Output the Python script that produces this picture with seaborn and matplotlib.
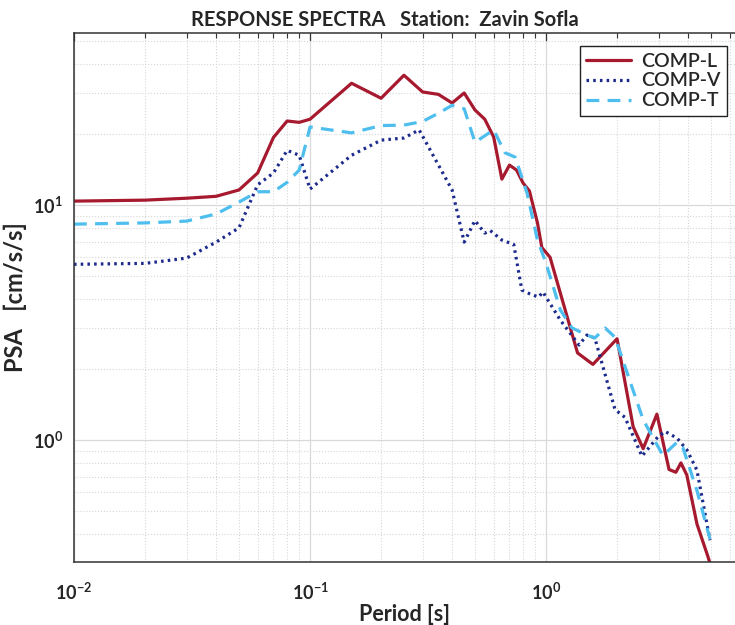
import numpy as np
import pandas as pd
import seaborn as sns
import matplotlib.pyplot as plt
from matplotlib.ticker import LogLocator, NullFormatter, FuncFormatter

# ---- data (period [s], PSA [cm/s/s]) ----
period_L = [0.01, 0.02, 0.03, 0.04, 0.05, 0.06, 0.07, 0.08, 0.09, 0.10,
            0.15, 0.20, 0.25, 0.30, 0.35, 0.40, 0.45, 0.50, 0.55, 0.60,
            0.65, 0.70, 0.75, 0.80, 0.85, 0.92, 0.96, 1.04, 1.36, 1.58,
            2.00, 2.34, 2.58, 2.95, 3.32, 3.55, 3.73, 3.95, 4.36, 4.85, 5.00]
psa_L = [10.4, 10.5, 10.7, 10.9, 11.6, 13.7, 19.4, 22.8, 22.5, 23.2,
         33.0, 28.5, 35.7, 30.3, 29.6, 27.2, 30.0, 25.4, 23.2, 19.5,
         12.9, 14.8, 14.1, 12.4, 11.5, 8.4, 6.6, 6.0, 2.35, 2.10,
         2.70, 1.14, 0.92, 1.29, 0.75, 0.73, 0.80, 0.71, 0.44, 0.32, 0.29]

period_V = [0.01, 0.02, 0.03, 0.04, 0.05, 0.06, 0.07, 0.08, 0.09, 0.10,
            0.15, 0.20, 0.25, 0.29, 0.40, 0.45, 0.50, 0.55, 0.58, 0.65,
            0.73, 0.79, 0.85, 0.93, 0.97, 1.15, 1.38, 1.49, 1.61, 1.96,
            2.16, 2.55, 2.95, 3.19, 3.59, 3.95, 4.36, 4.95]
psa_V = [5.6, 5.65, 5.95, 6.96, 8.0, 12.2, 13.7, 17.1, 16.3, 11.7,
         16.3, 18.9, 19.3, 20.9, 11.6, 6.96, 8.6, 7.6, 7.8, 7.1,
         6.8, 4.35, 4.2, 4.06, 4.27, 3.24, 2.54, 2.80, 2.72, 1.35,
         1.25, 0.855, 1.02, 1.09, 1.02, 0.91, 0.745, 0.375]

period_T = [0.01, 0.02, 0.03, 0.04, 0.05, 0.06, 0.07, 0.08, 0.09, 0.10,
            0.15, 0.20, 0.25, 0.30, 0.35, 0.40, 0.42, 0.45, 0.50, 0.60,
            0.67, 0.74, 0.83, 0.92, 1.00, 1.15, 1.29, 1.49, 1.61, 1.78,
            1.96, 2.58, 3.13, 3.59, 3.80, 4.36, 4.95]
psa_T = [8.3, 8.4, 8.55, 9.17, 10.3, 11.4, 11.4, 12.5, 14.1, 21.5,
         20.3, 21.8, 21.9, 22.7, 24.6, 26.6, 26.1, 25.7, 18.5, 20.9,
         16.7, 16.0, 11.3, 7.1, 5.66, 3.58, 3.0, 2.8, 2.72, 3.0,
         2.74, 1.22, 0.86, 0.98, 0.93, 0.61, 0.38]

colors = {"COMP-L": "#A6192E", "COMP-V": "#1B2A8C", "COMP-T": "#4DBEEE"}

sns.set_theme(style="white")
plt.rcParams["font.family"] = ["Lato", "DejaVu Sans"]
plt.rcParams["mathtext.fontset"] = "custom"
plt.rcParams["mathtext.bf"] = "Lato:bold"
plt.rcParams["mathtext.rm"] = "Lato"

fig = plt.figure(figsize=(7.35, 6.25), dpi=100)
ax = fig.add_axes([74 / 735, 1 - 562 / 625, 661 / 735, 529 / 625])

sns.lineplot(x=period_L, y=psa_L, ax=ax, color=colors["COMP-L"], lw=2.3,
             label="COMP-L", sort=False)
sns.lineplot(x=period_V, y=psa_V, ax=ax, color=colors["COMP-V"], lw=2.3,
             label="COMP-V", sort=False, linestyle=(0, (0.8, 1.3)))
sns.lineplot(x=period_T, y=psa_T, ax=ax, color=colors["COMP-T"], lw=2.3,
             label="COMP-T", sort=False, linestyle=(0, (4, 2.6)))

ax.set_xscale("log")
ax.set_yscale("log")
ax.set_xlim(0.01, 6.32)
ax.set_ylim(0.303, 54)

pow10 = FuncFormatter(lambda v, p: r"$\mathbf{10^{%d}}$" % round(np.log10(v)))
ax.xaxis.set_major_formatter(pow10)
ax.yaxis.set_major_formatter(pow10)
ax.xaxis.set_minor_locator(LogLocator(base=10, subs=np.arange(2, 10)))
ax.yaxis.set_minor_locator(LogLocator(base=10, subs=np.arange(2, 10)))
ax.xaxis.set_minor_formatter(NullFormatter())
ax.yaxis.set_minor_formatter(NullFormatter())

ax.grid(True, which="major", color="#d9d9d9", lw=0.9, ls="-")
ax.grid(True, which="minor", color="#d6d6d6", lw=0.8, ls=":")
ax.set_axisbelow(True)

ax.tick_params(which="both", direction="in", top=True, right=False,
               color="#333333")
ax.tick_params(which="major", length=6, width=0.9)
ax.tick_params(which="minor", length=3.5, width=0.8)
ax.tick_params(axis="x", which="major", pad=14, labelsize=13)
ax.tick_params(axis="y", which="major", pad=8, labelsize=13)

for side in ["left", "bottom", "top"]:
    ax.spines[side].set_color("#333333")
    ax.spines[side].set_linewidth(1.1)
ax.spines["right"].set_visible(False)

ax.set_xlabel("Period [s]", fontsize=15.5, fontweight="bold", labelpad=1)
ax.set_ylabel("PSA   [cm/s/s]", fontsize=17, fontweight="bold", labelpad=4)
ax.set_title("RESPONSE SPECTRA   Station:  Zavin Sofla", fontsize=14.5,
             fontweight="bold", x=0.47, pad=5)

leg = ax.legend(loc="upper right", bbox_to_anchor=(0.988, 0.976),
                borderaxespad=0, frameon=True, fancybox=False,
                framealpha=1, edgecolor="#222222", handlelength=2.3,
                borderpad=0.35, labelspacing=0.15, handletextpad=0.5,
                prop={"weight": "semibold", "size": 14})
leg.get_frame().set_linewidth(1.0)

fig.savefig("out.png", dpi=100)
